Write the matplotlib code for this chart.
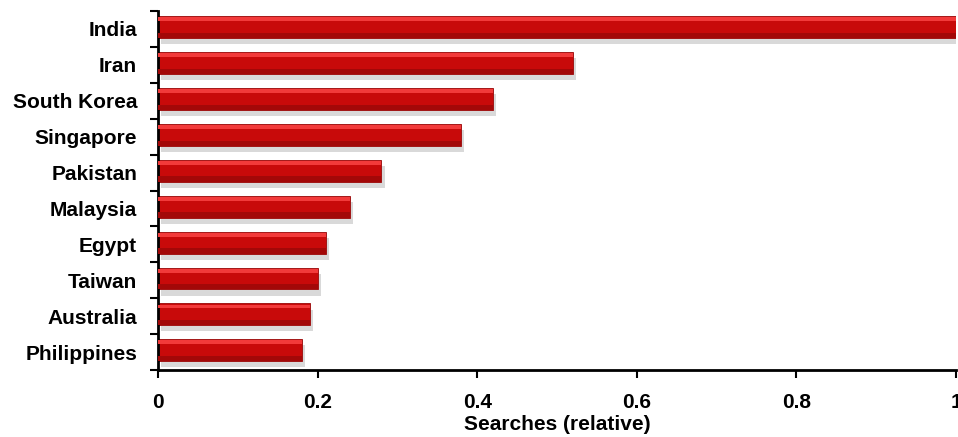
import numpy as np
import matplotlib.pyplot as plt

plt.rcParams['font.family'] = ['Liberation Sans', 'DejaVu Sans']
plt.rcParams['font.weight'] = 'bold'

# data
countries = ['India', 'Iran', 'South Korea', 'Singapore', 'Pakistan',
             'Malaysia', 'Egypt', 'Taiwan', 'Australia', 'Philippines']
searches = [1.0, 0.52, 0.42, 0.38, 0.28, 0.24, 0.21, 0.20, 0.19, 0.18]
xticks = [0, 0.2, 0.4, 0.6, 0.8, 1]
xtick_labels = ['0', '0.2', '0.4', '0.6', '0.8', '1']

fig = plt.figure(figsize=(9.58, 4.37), dpi=100)
ax = fig.add_axes([158 / 958, 1 - 370 / 437, 798 / 958, 359 / 437])

y = np.arange(len(countries))[::-1]
h = 0.61

# soft shadow under the bars
ax.barh(y - 0.12, searches, height=h, left=0.004, color='#b4b4b4', alpha=0.5, zorder=1)
# main bar
ax.barh(y + 0.05, searches, height=h, color='#c80a0a', edgecolor='#9a0707', linewidth=0.6, zorder=2)
# darker lower band and lighter top band for a glossy look
ax.barh(y + 0.05 - h * 0.38, searches, height=h * 0.24, color='#a30808', zorder=3)
ax.barh(y + 0.05 + h * 0.36, searches, height=h * 0.18, color='#f23a3a', zorder=3)

ax.set_xlim(0, 1)
ax.set_ylim(-0.5, len(countries) - 0.5)

ax.set_xticks(xticks)
ax.set_xticklabels(xtick_labels, fontsize=15, fontweight='bold')
ax.tick_params(axis='x', direction='out', length=6, width=1.5, pad=10.5)

# category labels centred, tick marks on the boundaries
ax.set_yticks(np.arange(len(countries) + 1) - 0.5)
ax.set_yticklabels([])
ax.set_yticks(y, minor=True)
ax.set_yticklabels(countries, minor=True, fontsize=15, fontweight='bold')
ax.tick_params(axis='y', which='major', direction='out', length=6, width=1.5)
ax.tick_params(axis='y', which='minor', length=0, pad=15)

for s in ['top', 'right']:
    ax.spines[s].set_visible(False)
for s in ['left', 'bottom']:
    ax.spines[s].set_linewidth(2)

ax.set_xlabel('Searches (relative)', fontsize=15, fontweight='bold', labelpad=2)

fig.savefig('out.png', dpi=100)
